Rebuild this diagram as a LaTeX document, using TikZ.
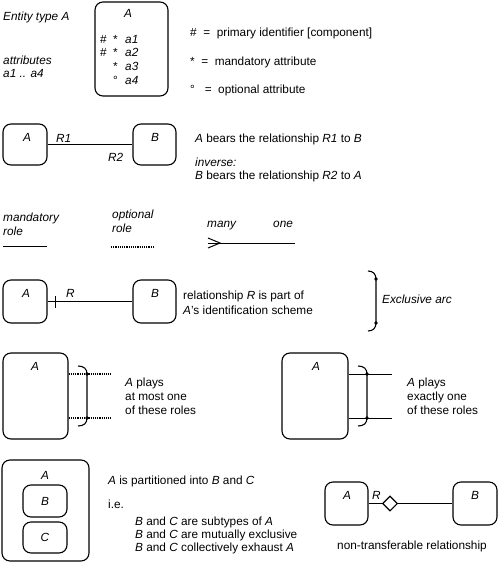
\documentclass[tikz,border=0pt]{standalone}
\usepackage{fontspec}
\setmainfont{Liberation Sans}
\usetikzlibrary{shapes.geometric}
\begin{document}
\begin{tikzpicture}[x=1pt,y=-1pt,
 ent/.style={draw, rounded corners=8pt, line width=1.1pt, inner sep=0pt},
 txt/.style={anchor=base west, inner sep=0pt, font=\fontsize{11.8}{14}\selectfont},
 itxt/.style={anchor=base west, inner sep=0pt, font=\fontsize{11.8}{14}\selectfont\itshape},
 lbl/.style={anchor=base, inner sep=0pt, font=\fontsize{11.8}{14}\selectfont\itshape},
 conn/.style={line width=1.1pt},
 dotln/.style={line width=1.2pt, dash pattern=on 1.2pt off 1pt},
 dotmark/.style={circle, fill, inner sep=0pt, minimum size=3.8pt}]
\useasboundingbox (0,0) rectangle (500,566);

% ---- Row 1: entity type with attributes
\node[itxt] (et) at (3,20) {Entity type A};
\node[itxt] (at1) at (3,64) {attributes};
\node[itxt] (at2) at (3,77) {a1 .. a4};
\node[ent, minimum width=73pt, minimum height=94pt] (ebox) at (131.5,49) {};
\node[lbl] (ea) at (128,17) {A};
\node[txt] (h1) at (100,43) {\#};
\node[txt] (s1) at (113,43) {*};
\node[itxt] (a1) at (125,43) {a1};
\node[txt] (h2) at (100,56) {\#};
\node[txt] (s2) at (113,56) {*};
\node[itxt] (a2) at (125,56) {a2};
\node[txt] (s3) at (113,70) {*};
\node[itxt] (a3) at (125,70) {a3};
\node[txt] (s4) at (113,84) {°};
\node[itxt] (a4) at (125,84) {a4};
\node[txt] (lg1) at (190,36) {\#\ \ =\ \ primary identifier [component]};
\node[txt] (lg2) at (190,65) {*\ \ =\ \ mandatory attribute};
\node[txt] (lg3) at (190,93) {°\ \ \ =\ \ optional attribute};

% ---- Row 2: relationship
\node[ent, minimum width=44pt, minimum height=41pt] (rA) at (25,144.5) {};
\node[ent, minimum width=43pt, minimum height=41pt] (rB) at (154.5,144.5) {};
\node[lbl] (rAl) at (27,141) {A};
\node[lbl] (rBl) at (155,141) {B};
\draw[conn] (rA) -- (rB);
\node[itxt] (r1) at (56,142) {R1};
\node[itxt] (r2) at (108,161) {R2};
\node[txt] (rt1) at (195,142) {\textit{A} bears the relationship \textit{R1} to \textit{B}};
\node[itxt] (rt2) at (195,166) {inverse:};
\node[txt] (rt3) at (195,179) {\textit{B} bears the relationship \textit{R2} to \textit{A}};

% ---- Row 3: line legend
\node[itxt] (md1) at (3,221) {mandatory};
\node[itxt] (md2) at (3,235) {role};
\coordinate (m1) at (3,246);
\coordinate (m2) at (47,246);
\draw[line width=1pt] (m1) -- (m2);
\node[itxt] (op1) at (112,218) {optional};
\node[itxt] (op2) at (112,232) {role};
\coordinate (o1) at (111,247);
\coordinate (o2) at (155,247);
\draw[dotln] (o1) -- (o2);
\node[itxt] (mny) at (207,227) {many};
\node[itxt] (one) at (273,227) {one};
\coordinate (c1) at (208,243);
\coordinate (c2) at (295,243);
\coordinate (cf) at (220,243);
\coordinate (c3) at (208,238);
\coordinate (c4) at (208,248);
\draw[line width=1pt] (c1) -- (c2);
\draw[line width=1pt] (c3) -- (cf) -- (c4);

% ---- Row 4: identification
\node[ent, minimum width=44pt, minimum height=43pt] (iA) at (25,301.5) {};
\node[ent, minimum width=43pt, minimum height=43pt] (iB) at (154.5,301.5) {};
\node[lbl] (iAl) at (26,297) {A};
\node[lbl] (iBl) at (155,297) {B};
\draw[conn] (iA) -- (iB);
\draw[conn] ([xshift=8pt,yshift=-6pt]iA.east) -- ([xshift=8pt,yshift=6pt]iA.east);
\node[itxt] (ir) at (66,297) {R};
\node[txt] (it1) at (183,299) {relationship \textit{R} is part of};
\node[txt] (it2) at (183,314) {\textit{A}’s identification scheme};

% ---- Exclusive arc legend
\coordinate (e0) at (368,271);
\coordinate (e1) at (376,279);
\coordinate (e2) at (376,323);
\coordinate (e3) at (368,331);
\draw[conn] (e0) .. controls (373,271) and (376,274) .. (e1) -- (e2) .. controls (376,328) and (373,331) .. (e3);
\node[dotmark] (ed1) at (e1) {};
\node[dotmark] (ed2) at (e2) {};
\node[itxt] (ex) at (382,303) {Exclusive arc};

% ---- Row 5 left: at most one
\node[ent, minimum width=65pt, minimum height=86pt] (pA) at (35.5,396) {};
\node[lbl] (pAl) at (35,370) {A};
\coordinate (p1) at (111,374);
\coordinate (p2) at (111,418);
\draw[dotln] (pA.east |- p1) -- (p1);
\draw[dotln] (pA.east |- p2) -- (p2);
\coordinate (pb0) at (78,366);
\coordinate (pb1) at (87,374);
\coordinate (pb2) at (87,418);
\coordinate (pb3) at (78,426);
\draw[conn] (pb0) .. controls (84,366) and (87,369) .. (pb1) -- (pb2) .. controls (87,423) and (84,426) .. (pb3);
\node[dotmark] (pd1) at (pb1) {};
\node[dotmark] (pd2) at (pb2) {};
\node[txt] (pt1) at (125,386) {\textit{A} plays};
\node[txt] (pt2) at (125,400) {at most one};
\node[txt] (pt3) at (125,414) {of these roles};

% ---- Row 5 right: exactly one
\node[ent, minimum width=66pt, minimum height=86pt] (qA) at (315,396) {};
\node[lbl] (qAl) at (316,370) {A};
\coordinate (q1) at (392,374);
\coordinate (q2) at (392,418);
\draw[line width=1pt] (qA.east |- q1) -- (q1);
\draw[line width=1pt] (qA.east |- q2) -- (q2);
\coordinate (qb0) at (358,366);
\coordinate (qb1) at (367,374);
\coordinate (qb2) at (367,418);
\coordinate (qb3) at (358,426);
\draw[conn] (qb0) .. controls (364,366) and (367,369) .. (qb1) -- (qb2) .. controls (367,423) and (364,426) .. (qb3);
\node[dotmark] (qd1) at (qb1) {};
\node[dotmark] (qd2) at (qb2) {};
\node[txt] (qt1) at (407,386) {\textit{A} plays};
\node[txt] (qt2) at (407,400) {exactly one};
\node[txt] (qt3) at (407,414) {of these roles};

% ---- Row 6 left: partition
\node[ent, minimum width=87pt, minimum height=101pt] (oA) at (45.5,510.5) {};
\node[lbl] (oAl) at (45,479) {A};
\node[ent, minimum width=44pt, minimum height=32pt] (oB) at (45,501) {};
\node[lbl] (oBl) at (45,505) {B};
\node[ent, minimum width=44pt, minimum height=31pt] (oC) at (45,537.5) {};
\node[lbl] (oCl) at (45,541) {C};
\node[txt] (pp1) at (108,484) {\textit{A} is partitioned into \textit{B} and \textit{C}};
\node[txt] (pp2) at (108,508) {i.e.};
\node[txt] (pp3) at (135,525) {\textit{B} and \textit{C} are subtypes of \textit{A}};
\node[txt] (pp4) at (135,538) {\textit{B} and \textit{C} are mutually exclusive};
\node[txt] (pp5) at (135,551) {\textit{B} and \textit{C} collectively exhaust \textit{A}};

% ---- Row 6 right: non-transferable
\node[ent, minimum width=43pt, minimum height=43pt] (nA) at (346.5,503.5) {};
\node[ent, minimum width=44pt, minimum height=43pt] (nB) at (475,503.5) {};
\node[lbl] (nAl) at (347,499) {A};
\node[lbl] (nBl) at (475,499) {B};
\node[draw, diamond, aspect=1, line width=1.1pt, inner sep=0pt, minimum size=15pt, fill=white] (dm) at (390,503.5) {};
\draw[conn] (nA) -- (dm);
\draw[conn] (dm) -- (nB);
\node[itxt] (nr) at (372,499) {R};
\node[anchor=base, inner sep=0pt, font=\fontsize{11.8}{14}\selectfont] (nt) at (412,549) {non-transferable relationship};
\end{tikzpicture}
\end{document}
